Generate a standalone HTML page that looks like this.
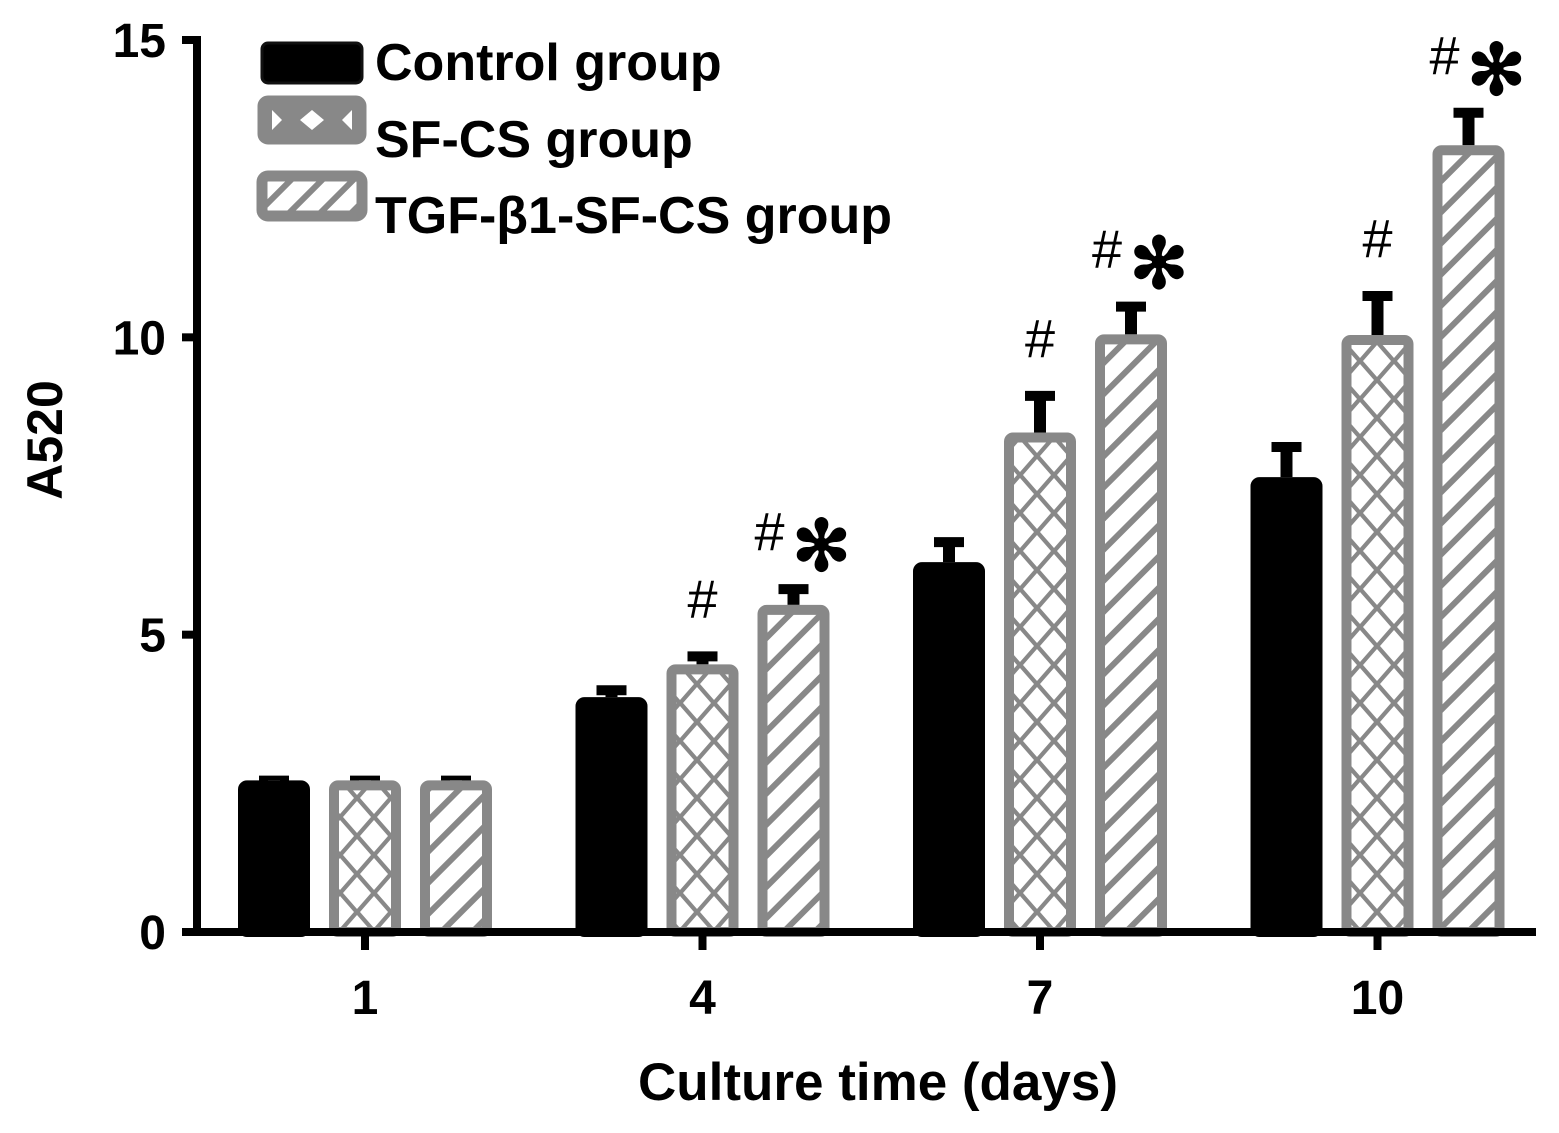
<!DOCTYPE html>
<html><head><meta charset="utf-8"><style>
html,body{margin:0;padding:0;background:#fff;}
svg{display:block;font-family:"Liberation Sans",sans-serif;}
</style></head><body>
<svg id="chart" width="1559" height="1133" viewBox="0 0 1559 1133">
<defs>
<pattern id="diam" patternUnits="userSpaceOnUse" width="34" height="38" x="0" y="0">
<rect width="34" height="38" fill="#888"/>
<path d="M17 3 L31 19 L17 35 L3 19 Z" fill="#fff"/>
<path d="M0 -16 L14 0 L0 16 L-14 0 Z M34 -16 L48 0 L34 16 L20 0 Z M0 22 L14 38 L0 54 L-14 38 Z M34 22 L48 38 L34 54 L20 38 Z" fill="#fff"/>
</pattern>
<pattern id="hatch" patternUnits="userSpaceOnUse" width="22" height="22" patternTransform="rotate(45)">
<rect width="22" height="22" fill="#fff"/>
<rect x="0" y="0" width="6" height="22" fill="#888"/>
</pattern>
</defs>
<g id="bars"></g>
<g id="axes"></g>
<g id="legend">
<rect x="262" y="43" width="100" height="40" rx="6" fill="#000" stroke="#111" stroke-width="3"/>
<text x="375" y="80" font-size="52" font-weight="bold">Control group</text>
<rect x="262" y="100" width="100" height="40" rx="6" fill="#888" stroke="#888" stroke-width="9"/>
<path d="M272 110 L282 120 L272 130 Z M300 120 L312 110 L324 120 L312 130 Z M352 110 L342 120 L352 130 Z" fill="#fff"/>
<text x="375" y="157" font-size="52" font-weight="bold">SF-CS group</text>
<rect x="262" y="176" width="100" height="40" rx="6" fill="url(#hatch)" stroke="#888" stroke-width="11"/>
<text x="375" y="233" font-size="52" font-weight="bold">TGF-β1-SF-CS group</text>
</g>
<text x="878" y="1100" font-size="53" font-weight="bold" text-anchor="middle">Culture time (days)</text>
<text transform="translate(62,440) rotate(-90)" font-size="50" font-weight="bold" text-anchor="middle">A520</text>
</svg>
<script>
const categories = ["1","4","7","10"];
const controlValues = [2.55, 3.95, 6.22, 7.65];
const controlErrors = [0.08, 0.2, 0.42, 0.59];
const sfcsValues = [2.55, 4.5, 8.4, 10.04];
const sfcsErrors = [0.08, 0.22, 0.7, 0.74];
const tgfValues = [2.55, 5.5, 10.05, 13.23];
const tgfErrors = [0.08, 0.35, 0.55, 0.63];
const yTicks = [0, 5, 10, 15];
const sfcsMarks = ["", "#", "#", "#"];
const tgfMarks = ["", "#*", "#*", "#*"];

const NS = "http://www.w3.org/2000/svg";
const y0 = 932, yTop = 40, yMax = 15;
function yScale(v){ return y0 - (v / yMax) * (y0 - yTop); }
function xScale(i){ return 365 + i * 337.5; }
function mk(tag, attrs, parent){ const e=document.createElementNS(NS,tag); for(const k in attrs) e.setAttribute(k,attrs[k]); parent.appendChild(e); return e; }

const bars = document.getElementById("bars");
const series = [
  {vals: controlValues, errs: controlErrors, off: -91, fill: "#000", stroke: "#000", name: "control", marks: null},
  {vals: sfcsValues, errs: sfcsErrors, off: 0, fill: "url(#diam)", stroke: "#888", name: "sfcs", marks: sfcsMarks},
  {vals: tgfValues, errs: tgfErrors, off: 91, fill: "url(#hatch)", stroke: "#888", name: "tgf", marks: tgfMarks}
];
const bw = 72;
series.forEach(s => {
  categories.forEach((c, i) => {
    const cx = xScale(i) + s.off;
    const top = yScale(s.vals[i]);
    const et = yScale(s.vals[i] + s.errs[i]);
    const eb = mk("path", {d: `M${cx-6} ${top} L${cx-6} ${et+10} L${cx-15} ${et+10} L${cx-15} ${et} L${cx+15} ${et} L${cx+15} ${et+10} L${cx+6} ${et+10} L${cx+6} ${top} Z`, fill: "#000"}, bars);
    
    
    const r = mk("rect", {x: cx - bw/2 + 5, y: top + 5, width: bw - 10, height: y0 - top - 5, fill: s.fill, stroke: s.stroke, "stroke-width": 10, rx: 4}, bars);
    
    
    if (s.marks && s.marks[i]) {
      const m = s.marks[i];
      const t = mk("text", {x: cx + (m.length > 1 ? -24 : 0), y: et - 34, "font-size": 54, "text-anchor": "middle"}, bars);
      t.textContent = "#";
      
      
      if (m.length > 1) {
        const a = mk("text", {x: cx + 28, y: et - 14, "font-size": 70, "font-weight": "bold", "text-anchor": "middle"}, bars);
        a.textContent = "✻";
        
        
      }
    }
  });
});

const axes = document.getElementById("axes");
const ya = mk("path", {d: `M182 ${yTop} L197 ${yTop} L197 ${y0} L1536 ${y0}`, fill: "none", stroke: "#000", "stroke-width": 8}, axes);


yTicks.forEach(v => {
  const y = yScale(v);
  const tk = mk("line", {x1: 182, x2: 197, y1: y, y2: y, stroke: "#000", "stroke-width": 8}, axes);
  
  
  const t = mk("text", {x: 166, y: y + 17, "font-size": 48, "font-weight": "bold", "text-anchor": "end"}, axes);
  t.textContent = v;
  
  
});
categories.forEach((c, i) => {
  const x = xScale(i);
  const tk = mk("line", {x1: x, x2: x, y1: y0, y2: y0 + 18, stroke: "#000", "stroke-width": 8}, axes);
  
  
  const t = mk("text", {x: x, y: 1014, "font-size": 48, "font-weight": "bold", "text-anchor": "middle"}, axes);
  t.textContent = c;
  
  
});
</script>
</body></html>
